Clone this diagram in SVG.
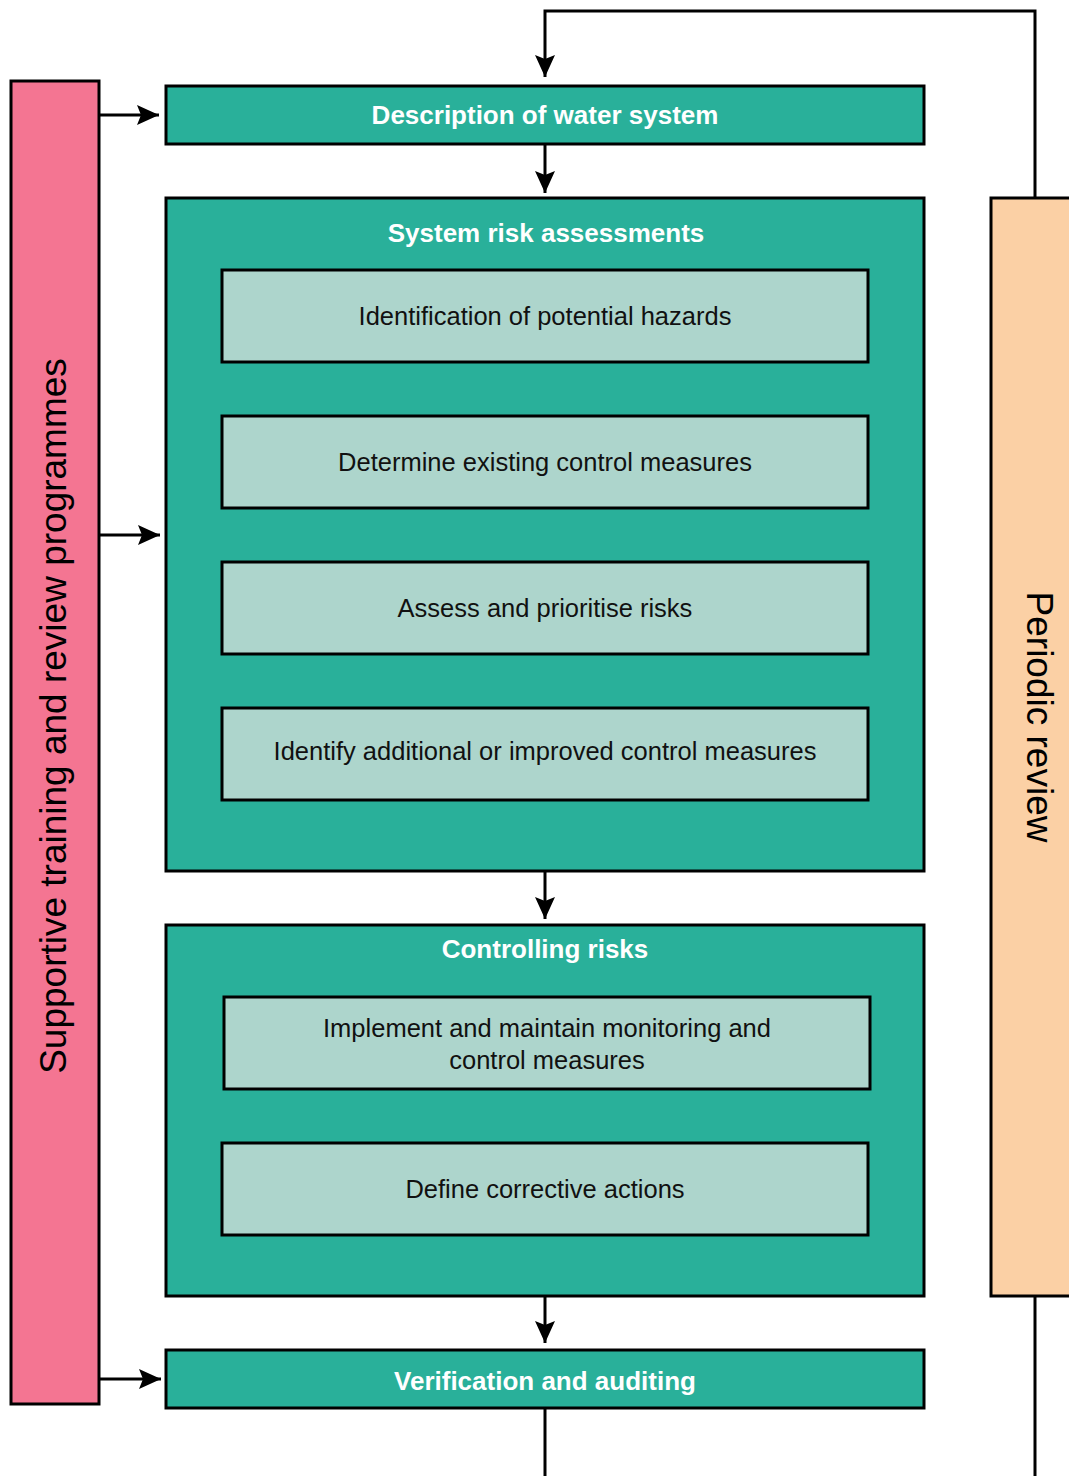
<svg xmlns="http://www.w3.org/2000/svg" width="1069" height="1476" viewBox="0 0 1069 1476">
<style>
.box{stroke:#000;stroke-width:3}
.teal{fill:#29B09A}
.light{fill:#ADD5CC}
.pink{fill:#F47592}
.peach{fill:#FBD0A5}
.title{font-family:"Liberation Sans",Arial,sans-serif;font-size:26px;font-weight:bold;fill:#fff;text-anchor:middle;dominant-baseline:central}
.item{font-family:"Liberation Sans",Arial,sans-serif;font-size:25.5px;fill:#111;text-anchor:middle;dominant-baseline:central}
.side{font-family:"Liberation Sans",Arial,sans-serif;font-size:37px;fill:#000;text-anchor:middle;dominant-baseline:central}
.conn{fill:none;stroke:#000;stroke-width:3}
</style>
<defs>
<marker id="arr" viewBox="-22 -10 22 20" markerWidth="22" markerHeight="20" refX="0" refY="0" orient="auto" markerUnits="userSpaceOnUse">
<path d="M0,0 L-22,-10 L-18,0 L-22,10 Z" fill="#000"/>
</marker>
</defs>
<g id="supportive">
<rect class="box pink" x="11" y="81" width="88" height="1323"/>
<text class="side" transform="translate(53,716) rotate(-90)">Supportive training and review programmes</text>
</g>
<g id="periodic">
<rect class="box peach" x="991" y="198" width="90" height="1098"/>
<text class="side" transform="translate(1039,717) rotate(90)">Periodic review</text>
</g>
<g id="description">
<rect class="box teal" x="166" y="86" width="758" height="58"/>
<text class="title" x="545" y="115">Description of water system</text>
</g>
<g id="system-risk">
<rect class="box teal" x="166" y="198" width="758" height="673"/>
<text class="title" x="546" y="233">System risk assessments</text>
</g>
<g id="hazards">
<rect class="box light" x="222" y="270" width="646" height="92"/>
<text class="item" x="545" y="316">Identification of potential hazards</text>
</g>
<g id="existing">
<rect class="box light" x="222" y="416" width="646" height="92"/>
<text class="item" x="545" y="462">Determine existing control measures</text>
</g>
<g id="assess">
<rect class="box light" x="222" y="562" width="646" height="92"/>
<text class="item" x="545" y="608">Assess and prioritise risks</text>
</g>
<g id="identify">
<rect class="box light" x="222" y="708" width="646" height="92"/>
<text class="item" x="545" y="751">Identify additional or improved control measures</text>
</g>
<g id="controlling">
<rect class="box teal" x="166" y="925" width="758" height="371"/>
<text class="title" x="545" y="949">Controlling risks</text>
</g>
<g id="implement">
<rect class="box light" x="224" y="997" width="646" height="92"/>
<text class="item" x="547" y="1028">Implement and maintain monitoring and</text>
<text class="item" x="547" y="1060">control measures</text>
</g>
<g id="corrective">
<rect class="box light" x="222" y="1143" width="646" height="92"/>
<text class="item" x="545" y="1189">Define corrective actions</text>
</g>
<g id="verification">
<rect class="box teal" x="166" y="1350" width="758" height="58"/>
<text class="title" x="545" y="1381">Verification and auditing</text>
</g>
<g id="connectors">
<path class="conn" d="M1035,198 V11 H545 V77" marker-end="url(#arr)"/>
<path class="conn" d="M99,115 H159" marker-end="url(#arr)"/>
<path class="conn" d="M545,144 V193" marker-end="url(#arr)"/>
<path class="conn" d="M99,535 H160" marker-end="url(#arr)"/>
<path class="conn" d="M545,871 V919" marker-end="url(#arr)"/>
<path class="conn" d="M545,1296 V1343" marker-end="url(#arr)"/>
<path class="conn" d="M99,1379 H161" marker-end="url(#arr)"/>
<path class="conn" d="M545,1408 V1476"/>
<path class="conn" d="M1035,1296 V1476"/>
</g>
</svg>
